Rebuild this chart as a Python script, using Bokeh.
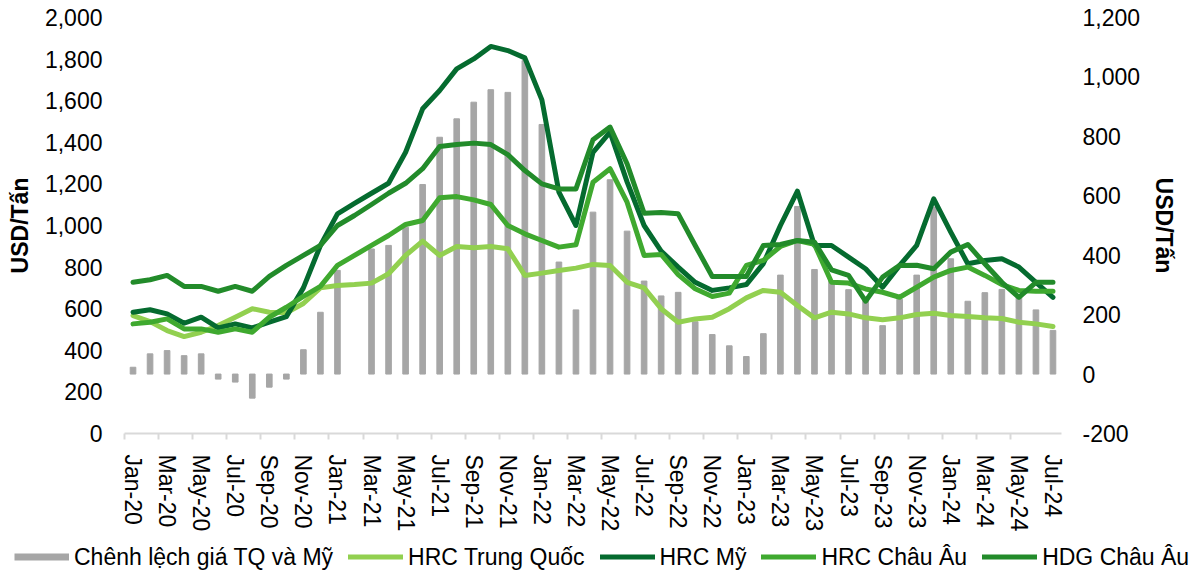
import math
from bokeh.plotting import figure
from bokeh.layouts import column
from bokeh.models import (Range1d, LinearAxis, FixedTicker, NumeralTickFormatter,
                          Legend, LegendItem)
from bokeh.embed import file_html
from bokeh.resources import INLINE

months = ["Jan-20", "Feb-20", "Mar-20", "Apr-20", "May-20", "Jun-20", "Jul-20", "Aug-20", "Sep-20", "Oct-20", "Nov-20", "Dec-20",
          "Jan-21", "Feb-21", "Mar-21", "Apr-21", "May-21", "Jun-21", "Jul-21", "Aug-21", "Sep-21", "Oct-21", "Nov-21", "Dec-21",
          "Jan-22", "Feb-22", "Mar-22", "Apr-22", "May-22", "Jun-22", "Jul-22", "Aug-22", "Sep-22", "Oct-22", "Nov-22", "Dec-22",
          "Jan-23", "Feb-23", "Mar-23", "Apr-23", "May-23", "Jun-23", "Jul-23", "Aug-23", "Sep-23", "Oct-23", "Nov-23", "Dec-23",
          "Jan-24", "Feb-24", "Mar-24", "Apr-24", "May-24", "Jun-24", "Jul-24"]

# Chênh lệch giá TQ và Mỹ (right axis); Feb-21 has no bar
spread = [23, 68, 79, 62, 68, -17, -27, -81, -44, -17, 82, 208,
          349, None, 421, 433, 494, 638, 797, 859, 915, 957, 948, 1055,
          840, 377, 216, 545, 654, 481, 313, 263, 275, 176, 133, 95,
          59, 136, 333, 564, 352, 315, 284, 248, 163, 252, 333, 562,
          388, 245, 274, 285, 259, 216, 147]

hrc_tq = [567, 538, 495, 466, 487, 519, 559, 600, 583, 580, 625, 700,
          712, 716, 723, 768, 856, 925, 856, 899, 893, 899, 888, 760,
          771, 784, 795, 813, 808, 727, 700, 600, 535, 551, 559, 600,
          652, 688, 679, 615, 556, 583, 575, 556, 547, 556, 572, 578,
          567, 562, 556, 553, 535, 527, 514]

hrc_my = [583, 595, 575, 530, 559, 508, 527, 508, 535, 562, 700, 904,
          1056, 1106, 1155, 1203, 1352, 1561, 1649, 1753, 1801, 1861, 1841, 1806,
          1604, 1160, 1000, 1352, 1449, 1210, 1000, 877, 800, 727, 688, 700,
          716, 817, 1000, 1165, 904, 904, 848, 792, 703, 808, 904, 1128,
          968, 816, 832, 840, 800, 727, 655]

hrc_eu = [527, 535, 551, 503, 503, 487, 503, 487, 559, 607, 659, 707,
          808, 856, 904, 952, 1005, 1024, 1133, 1139, 1123, 1101, 1000, 960,
          928, 896, 907, 1208, 1273, 1112, 856, 861, 764, 696, 659, 675,
          808, 832, 899, 928, 909, 727, 723, 695, 679, 655, 703, 752,
          784, 800, 760, 716, 688, 684, 684]

hdg_eu = [727, 739, 760, 707, 707, 684, 707, 684, 755, 808, 856, 904,
          1000, 1048, 1101, 1155, 1203, 1273, 1380, 1389, 1396, 1389, 1341, 1264,
          1200, 1176, 1176, 1412, 1473, 1297, 1059, 1062, 1056, 904, 755, 755,
          755, 904, 909, 928, 920, 787, 760, 636, 752, 808, 809, 792,
          872, 909, 816, 727, 655, 727, 727]

series_names = ["Chênh lệch giá TQ và Mỹ", "HRC Trung Quốc", "HRC Mỹ", "HRC Châu Âu", "HDG Châu Âu"]

left_ticks = list(range(0, 2001, 200))
right_ticks = list(range(-200, 1201, 200))

FONT = "Liberation Sans"
C_BAR = "#A6A6A6"
C_TQ = "#92D050"
C_MY = "#056B2F"
C_EU = "#3FA92F"
C_HDG = "#228B2A"
line_colors = [C_TQ, C_MY, C_EU, C_HDG]

n = len(months)
idx = list(range(n))

W = 1191
p = figure(width=W, height=540, output_backend="svg", toolbar_location=None,
           x_range=Range1d(-0.5, n - 0.5), y_range=Range1d(0, 2000),
           min_border_left=124, min_border_right=130, min_border_top=17, min_border_bottom=107)
p.frame_align = False
p.extra_y_ranges = {"right": Range1d(-200, 1200)}
p.outline_line_alpha = 0
p.xgrid.visible = False
p.ygrid.visible = False
p.background_fill_color = "white"
p.border_fill_color = "white"

bx = [i for i in idx if spread[i] is not None]
bt = [spread[i] for i in bx]
p.vbar(x=bx, top=bt, bottom=0, width=0.33, color=C_BAR, y_range_name="right")

for vals, col in zip([hrc_tq, hrc_my, hrc_eu, hdg_eu], line_colors):
    p.line(idx, vals, line_width=5, color=col, line_join="round", line_cap="round")

# x axis
xa = p.xaxis[0]
xa.ticker = FixedTicker(ticks=list(range(0, n, 2)), minor_ticks=[k - 0.5 for k in range(0, n - 1, 2)])
xa.major_label_overrides = {i: months[i] for i in range(0, n, 2)}
xa.major_label_orientation = "vertical"
xa.major_tick_line_alpha = 0
xa.major_tick_out = 0
xa.major_tick_in = 0
xa.minor_tick_out = 6
xa.minor_tick_in = 0
xa.minor_tick_line_color = "#D9D9D9"
xa.minor_tick_line_width = 2
xa.axis_line_color = "#D9D9D9"
xa.axis_line_width = 2
xa.major_label_standoff = 15
xa.major_label_text_font = FONT
xa.major_label_text_font_size = "23px"
xa.major_label_text_color = "#000000"

# left axis
ya = p.yaxis[0]
ya.ticker = FixedTicker(ticks=left_ticks)
ya.formatter = NumeralTickFormatter(format="0,0")
ya.axis_line_alpha = 0
ya.major_tick_line_alpha = 0
ya.minor_tick_line_alpha = 0
ya.major_tick_out = 0
ya.major_tick_in = 0
ya.major_label_standoff = 22
ya.major_label_text_font = FONT
ya.major_label_text_font_size = "23px"
ya.major_label_text_color = "#000000"
ya.axis_label = "USD/Tấn"
ya.axis_label_text_font = FONT
ya.axis_label_text_font_style = "bold"
ya.axis_label_text_font_size = "23px"
ya.axis_label_text_color = "#000000"
ya.axis_label_standoff = 9

# right axis
ra = LinearAxis(y_range_name="right", ticker=FixedTicker(ticks=right_ticks),
                formatter=NumeralTickFormatter(format="0,0"))
ra.axis_line_alpha = 0
ra.major_tick_line_alpha = 0
ra.minor_tick_line_alpha = 0
ra.major_tick_out = 0
ra.major_tick_in = 0
ra.major_label_standoff = 21
ra.major_label_text_font = FONT
ra.major_label_text_font_size = "23px"
ra.major_label_text_color = "#000000"
ra.axis_label = "USD/Tấn"
ra.axis_label_text_font = FONT
ra.axis_label_text_font_style = "bold"
ra.axis_label_text_font_size = "23px"
ra.axis_label_text_color = "#000000"
ra.axis_label_standoff = 8
p.add_layout(ra, "right")

# legend strip (separate figure spanning the full width so the legend is never clipped)
pl = figure(width=W, height=33, output_backend="svg", toolbar_location=None,
            x_range=Range1d(0, 1), y_range=Range1d(0, 1),
            x_axis_location=None, y_axis_location=None,
            min_border_left=0, min_border_right=0, min_border_top=0, min_border_bottom=0)
pl.frame_align = False
pl.outline_line_alpha = 0
pl.xgrid.visible = False
pl.ygrid.visible = False
nan = float("nan")
proxies = [pl.line(x=[nan], y=[nan], line_width=7, color=C_BAR, line_cap="butt")]
for col in line_colors:
    proxies.append(pl.line(x=[nan], y=[nan], line_width=5, color=col, line_cap="round"))

legend = Legend(items=[LegendItem(label=nm, renderers=[r]) for nm, r in zip(series_names, proxies)],
                location="center_left", orientation="horizontal")
legend.label_text_font = FONT
legend.label_text_font_size = "23px"
legend.label_text_color = "#000000"
legend.glyph_width = 55
legend.glyph_height = 24
legend.label_height = 24
legend.label_standoff = 5
legend.spacing = 15
legend.padding = 0
legend.margin = 14
legend.border_line_alpha = 0
legend.background_fill_alpha = 0
pl.add_layout(legend)

layout = column(p, pl, spacing=0)
html = file_html(layout, INLINE)
open("out.html", "w").write(html)
